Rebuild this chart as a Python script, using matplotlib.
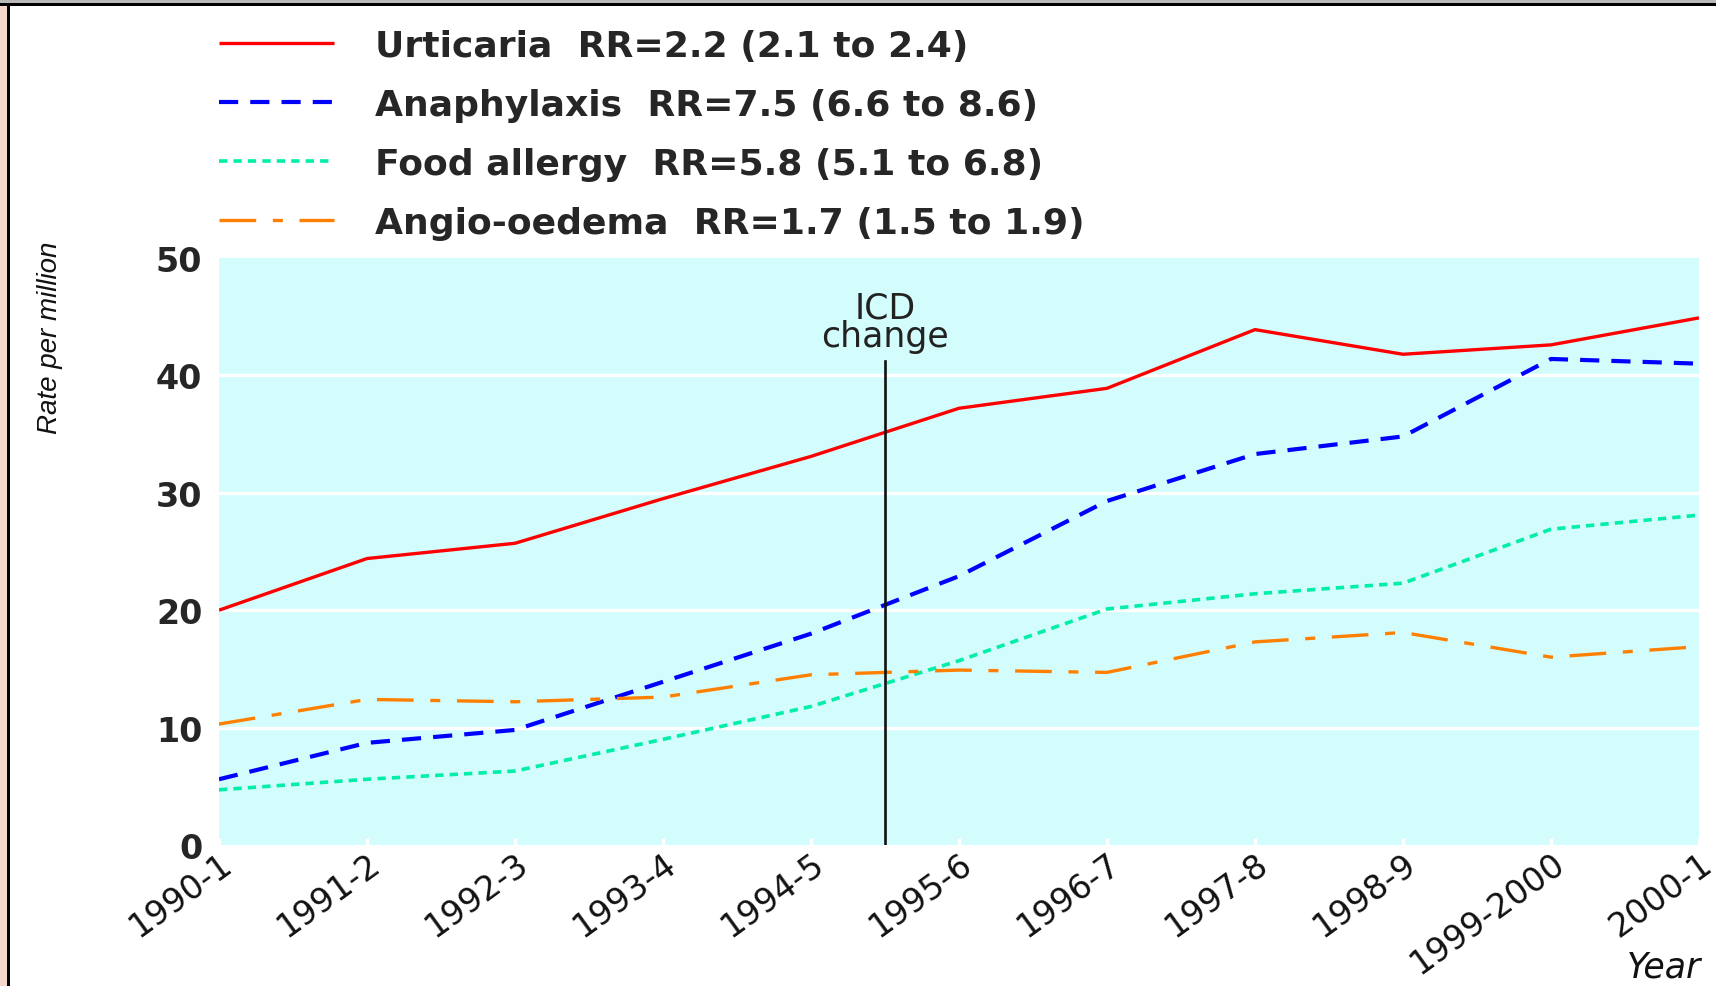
import matplotlib
matplotlib.use("Agg")
import matplotlib.pyplot as plt
from matplotlib.patches import Rectangle

plt.rcParams['font.family'] = ['DejaVu Sans']

years = ["1990-1", "1991-2", "1992-3", "1993-4", "1994-5", "1995-6",
         "1996-7", "1997-8", "1998-9", "1999-2000", "2000-1"]
urticaria = [20.0, 24.4, 25.7, 29.5, 33.1, 37.2, 38.9, 43.9, 41.8, 42.6, 44.9]
anaphylaxis = [5.6, 8.7, 9.8, 13.9, 18.0, 22.9, 29.3, 33.3, 34.8, 41.4, 41.0]
food_allergy = [4.7, 5.6, 6.3, 9.0, 11.8, 15.7, 20.1, 21.4, 22.3, 26.9, 28.1]
angio_oedema = [10.3, 12.4, 12.2, 12.6, 14.5, 14.9, 14.7, 17.3, 18.1, 16.0, 16.9]
labels = ["Urticaria  RR=2.2 (2.1 to 2.4)",
          "Anaphylaxis  RR=7.5 (6.6 to 8.6)",
          "Food allergy  RR=5.8 (5.1 to 6.8)",
          "Angio-oedema  RR=1.7 (1.5 to 1.9)"]
yticks = [0, 10, 20, 30, 40, 50]
icd_position = 4.5
icd_top = 41.2

fig = plt.figure(figsize=(17.16, 9.87), dpi=100)
fig.patch.set_facecolor('white')

# frame decorations
fig.add_artist(Rectangle((0, 0), 7/1716, 1, transform=fig.transFigure,
                         facecolor='#f4d6cb', edgecolor='none', zorder=0))
fig.add_artist(Rectangle((7/1716, 0), 2.5/1716, 1, transform=fig.transFigure,
                         facecolor='black', edgecolor='none', zorder=0))
fig.add_artist(Rectangle((0, 1-4/987), 1, 4/987, transform=fig.transFigure,
                         facecolor='#b9b9b9', edgecolor='none', zorder=0))
fig.add_artist(Rectangle((0, 1-6.5/987), 1, 2.5/987, transform=fig.transFigure,
                         facecolor='black', edgecolor='none', zorder=0))

ax = fig.add_axes([219/1716, 1-846/987, (1699-219)/1716, (846-259)/987])
ax.set_facecolor('#d3fcfc')
for s in ax.spines.values():
    s.set_visible(False)

x = list(range(len(years)))
ax.plot(x, urticaria, color='#ff0000', lw=2.4, solid_capstyle='butt', label=labels[0], zorder=4)
ax.plot(x, anaphylaxis, color='#0000ff', lw=3.0, dashes=(4.6, 2.9), label=labels[1], zorder=4)
ax.plot(x, food_allergy, color='#00eea8', lw=2.6, dashes=(2.3, 1.7), label=labels[2], zorder=4)
ax.plot(x, angio_oedema, color='#ff8000', lw=2.4, dashes=(11, 5, 3, 5), label=labels[3], zorder=4)

ax.plot([icd_position, icd_position], [0, icd_top], color='#111111', lw=1.9, zorder=5)
ax.text(icd_position, 41.9, "ICD\nchange", ha='center', va='bottom',
        fontsize=25, color='#222222', linespacing=0.8, zorder=6)

ax.set_xlim(0, len(years) - 1)
ax.set_ylim(0, 50)
ax.set_yticks(yticks)
ax.set_yticklabels([str(v) for v in yticks], fontsize=24, fontweight='bold', color='#262626')
ax.set_xticks(x)
ax.set_xticklabels(years, rotation=36, ha='right', va='top', fontsize=24,
                   rotation_mode='anchor', color='#111111')
ax.tick_params(axis='y', length=0, pad=12)
ax.tick_params(axis='x', direction='in', length=5, width=2.5, color='white', pad=1)
for yv in yticks[1:-1]:
    ax.axhline(yv, color='white', lw=2.4, zorder=1)

fig.text(50/1716, 1-338/987, "Rate per million", rotation=90, ha='center', va='center',
         fontsize=20, style='italic', family=['Liberation Sans', 'DejaVu Sans'],
         color='#111111')
fig.text(1664/1716, 1-985/987, "Year", ha='center', va='bottom',
         fontsize=25, style='italic', color='#111111')

handles, labs = ax.get_legend_handles_labels()
leg = fig.legend(handles, labs, loc='upper left', bbox_to_anchor=(219/1716, 1-30/987),
                 frameon=False, handlelength=3.19, handletextpad=1.14,
                 labelspacing=0.69, borderpad=0, borderaxespad=0,
                 prop={'size': 26, 'weight': 'bold'})
for t in leg.get_texts():
    t.set_color('#262626')

fig.savefig("out.png", dpi=100)
